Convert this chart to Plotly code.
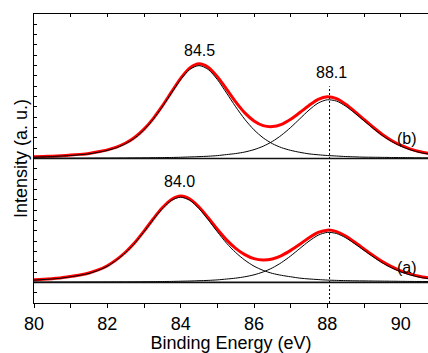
import plotly.graph_objects as go

# Binding energy grid (eV)
energy = [80.0 + 0.25 * k for k in range(44)]

# Component intensities (a.u., above each baseline)
comp1_b = [0.13, 0.16, 0.19, 0.24, 0.29, 0.36, 0.45, 0.60, 0.79, 1.05, 1.44, 2.00, 2.78, 3.79, 5.01, 6.35,
           7.65, 8.63, 9.00, 8.63, 7.65, 6.35, 5.01, 3.79, 2.78, 2.00, 1.44, 1.05, 0.79, 0.60, 0.45, 0.36,
           0.29, 0.24, 0.19, 0.16, 0.13, 0.12, 0.11, 0.10, 0.09, 0.08, 0.07, 0.065]
comp2_b = [0.03, 0.03, 0.035, 0.035, 0.04, 0.04, 0.045, 0.05, 0.05, 0.055, 0.06, 0.065, 0.07, 0.08, 0.09, 0.10,
           0.12, 0.15, 0.18, 0.22, 0.28, 0.38, 0.48, 0.63, 0.86, 1.19, 1.65, 2.26, 3.01, 3.85, 4.69, 5.37,
           5.69, 5.56, 5.07, 4.39, 3.65, 2.91, 2.22, 1.65, 1.20, 0.86, 0.60, 0.43]
comp1_a = [0.22, 0.27, 0.33, 0.41, 0.54, 0.68, 0.87, 1.16, 1.57, 2.15, 2.89, 3.80, 4.90, 6.07, 7.14, 7.94,
           8.25, 7.94, 7.14, 6.07, 4.90, 3.80, 2.89, 2.15, 1.57, 1.16, 0.87, 0.68, 0.54, 0.41, 0.33, 0.27,
           0.22, 0.19, 0.17, 0.15, 0.14, 0.13, 0.12, 0.11, 0.10, 0.09, 0.085, 0.08]
comp2_a = [0.025, 0.025, 0.03, 0.03, 0.03, 0.035, 0.04, 0.04, 0.045, 0.05, 0.05, 0.055, 0.06, 0.07, 0.08, 0.09,
           0.11, 0.13, 0.16, 0.19, 0.24, 0.32, 0.41, 0.54, 0.73, 1.01, 1.40, 1.92, 2.56, 3.28, 3.99, 4.57,
           4.84, 4.73, 4.32, 3.73, 3.10, 2.47, 1.89, 1.41, 1.02, 0.73, 0.51, 0.36]

offset_a = 2.0
offset_b = 14.0

peak_labels = ["84.5", "88.1", "84.0"]
peak_label_x = [84.5, 88.1, 83.97]
peak_label_y = [24.45, 22.35, 11.75]
series_labels = ["(b)", "(a)"]
series_label_x = [90.16, 90.16]
series_label_y = [15.9, 3.45]
marker_line_x = 88.06
marker_line_top = 21.0

FONT = "Liberation Sans, Arial, sans-serif"

fig = go.Figure()

spectra = [(offset_b, comp1_b, comp2_b), (offset_a, comp1_a, comp2_a)]

# red envelopes
for off, c1, c2 in spectra:
    env = [off + a + b for a, b in zip(c1, c2)]
    fig.add_trace(go.Scatter(x=energy, y=env, mode="lines",
                             line=dict(color="#ff0000", width=3, shape="spline", smoothing=0.8),
                             hoverinfo="skip", showlegend=False))
# components
for off, c1, c2 in spectra:
    for comp in (c1, c2):
        fig.add_trace(go.Scatter(x=energy, y=[off + v for v in comp], mode="lines",
                                 line=dict(color="black", width=1, shape="spline", smoothing=0.8),
                                 hoverinfo="skip", showlegend=False))
# baselines
for off, c1, c2 in spectra:
    fig.add_trace(go.Scatter(x=energy, y=[off] * len(energy), mode="lines",
                             line=dict(color="#111111", width=1.6),
                             hoverinfo="skip", showlegend=False))

# dummy trace on top axis
fig.add_trace(go.Scatter(x=[], y=[], xaxis="x2", yaxis="y", showlegend=False))

fig.add_shape(type="line", xref="x", yref="y", x0=marker_line_x, x1=marker_line_x,
              y0=0, y1=marker_line_top, line=dict(color="black", width=1, dash="2px,2px"))

for t, x, y in zip(peak_labels, peak_label_x, peak_label_y):
    fig.add_annotation(x=x, y=y, text=t, showarrow=False, xref="x", yref="y",
                       font=dict(family=FONT, size=16, color="black"))
for t, x, y in zip(series_labels, series_label_x, series_label_y):
    fig.add_annotation(x=x, y=y, text=t, showarrow=False, xref="x", yref="y",
                       font=dict(family=FONT, size=16, color="black"))

x_range = [80, 90.745]
fig.update_layout(
    width=428, height=353,
    margin=dict(l=34, r=0, t=14, b=50),
    paper_bgcolor="white", plot_bgcolor="white",
    font=dict(family=FONT, color="black"),
    xaxis=dict(range=x_range, dtick=2, tick0=80, ticks="outside", ticklen=4, tickwidth=1,
               tickcolor="black", showline=True, linecolor="black", linewidth=1, mirror=True,
               showgrid=False, zeroline=False, tickfont=dict(family=FONT, size=18),
               minor=dict(dtick=1, tick0=80, ticks="outside", ticklen=4, tickcolor="black", showgrid=False),
               title=dict(text="Binding Energy (eV)", font=dict(family=FONT, size=18), standoff=4)),
    xaxis2=dict(range=x_range, overlaying="x", side="top", dtick=1, tick0=80, ticks="inside",
                ticklen=3, tickcolor="black", showticklabels=False, showline=False, showgrid=False,
                zeroline=False),
    yaxis=dict(range=[0, 28], dtick=1, tick0=0, ticks="inside", ticklen=3, tickcolor="black",
               showticklabels=False, showline=True, linecolor="black", linewidth=1, mirror=False,
               showgrid=False, zeroline=False,
               title=dict(text="Intensity (a. u.)", font=dict(family=FONT, size=18), standoff=0)),
)

fig.write_html("out.html")
